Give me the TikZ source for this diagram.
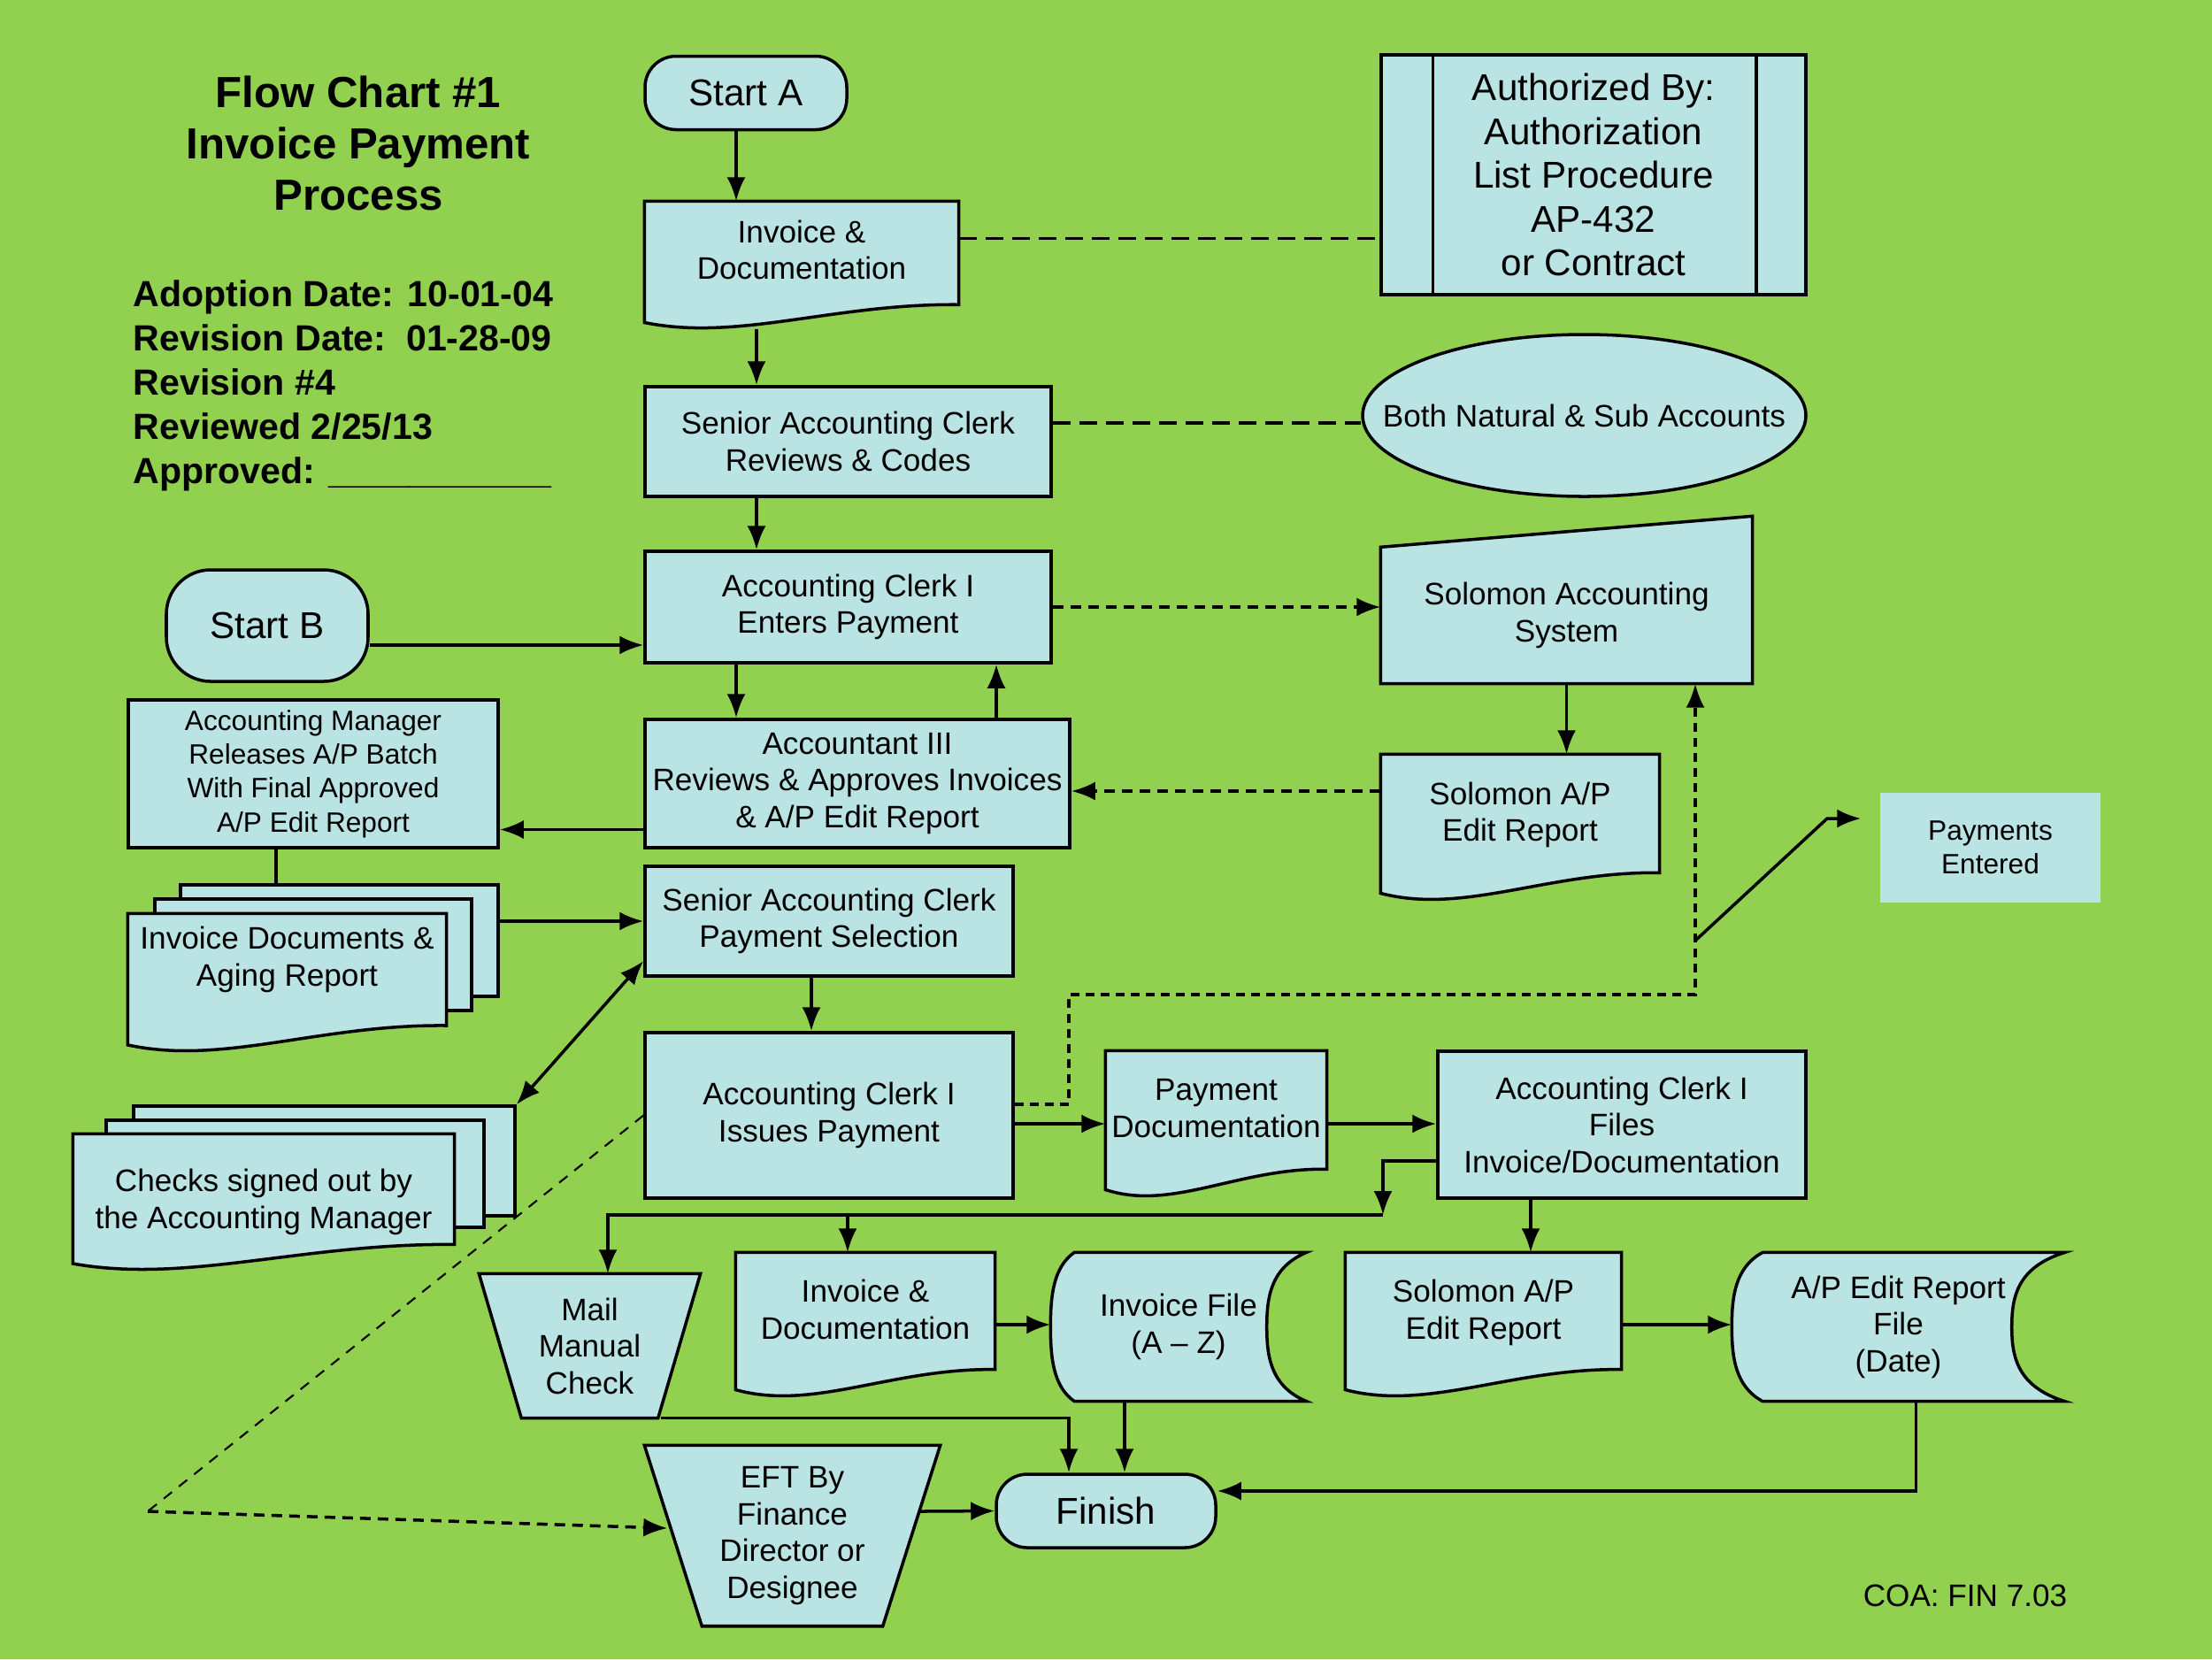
\documentclass[tikz,border=0pt]{standalone}
\usepackage{fontspec}
\setmainfont{Liberation Sans}
\usepackage{tikz}
\usetikzlibrary{shapes.geometric,arrows.meta,calc}
\pgfdeclarelayer{bg}
\pgfsetlayers{bg,main}
\definecolor{chartgreen}{RGB}{146,208,80}
\definecolor{boxblue}{RGB}{186,227,228}

\tikzset{
  thick/.style={line width=1pt},
  wh/.style 2 args={minimum width=#1cm,minimum height=#2cm},
  box/.style={draw,thick,fill=boxblue,align=center,inner sep=1pt,font=\fontsize{10}{11.8}\selectfont},
  term/.style={box,rounded corners=0.35cm,font=\fontsize{12}{14}\selectfont},
  bare/.style={align=center,inner sep=0pt,font=\fontsize{10}{11.8}\selectfont},
  docbox/.style={bare,text depth=0.35cm},
  outline/.style={draw,thick,fill=boxblue},
  dashedlink/.style={thick,dash pattern=on 0.12cm off 0.08cm},
  longdash/.style={thick,dash pattern=on 0.2cm off 0.1cm},
}

% document symbol with a wavy bottom
\newcommand{\docpath}[1]{%
  \draw[outline] let \p1=(#1.south west), \p2=(#1.north east), \n1={\x2-\x1}, \n2={\y2-\y1} in
    (\x1,{\y1+0.05*\n2}) -- (\x1,\y2) -- (\x2,\y2) -- (\x2,{\y1+0.19*\n2})
    .. controls ({\x1+0.6*\n1},{\y1+0.2*\n2}) and ({\x1+0.3*\n1},{\y1-0.1*\n2}) .. (\x1,{\y1+0.05*\n2}) -- cycle;}
% stored data symbol
\newcommand{\storepath}[3]{%
  \draw[outline] let \p1=(#1.south west), \p2=(#1.north east), \n2={\y2-\y1} in
    ({\x1+#2},\y2) -- (\x2,\y2)
    .. controls ({\x2-0.9*#3},{\y2-0.1*\n2}) and ({\x2-#3},{\y2-0.3*\n2}) .. ({\x2-#3},{0.5*(\y1+\y2)})
    .. controls ({\x2-#3},{\y1+0.3*\n2}) and ({\x2-0.9*#3},{\y1+0.1*\n2}) .. (\x2,\y1)
    -- ({\x1+#2},\y1)
    .. controls ({\x1+0.1*#2},{\y1+0.1*\n2}) and (\x1,{\y1+0.3*\n2}) .. (\x1,{0.5*(\y1+\y2)})
    .. controls (\x1,{\y2-0.3*\n2}) and ({\x1+0.1*#2},{\y2-0.1*\n2}) .. ({\x1+#2},\y2) -- cycle;}

\begin{document}
\begin{tikzpicture}[>={Latex[length=0.27cm,width=0.21cm]}]
\useasboundingbox (0,0) rectangle (25,-18.75);

\node[font=\bfseries\fontsize{14}{16.5}\selectfont,align=center] (title) at (4.05,-1.62) {Flow Chart \#1\\Invoice Payment\\Process};
\node[font=\bfseries\fontsize{11.7}{14.2}\selectfont,align=left,anchor=west,inner sep=0pt] (info) at (1.50,-4.36) {Adoption Date: 10-01-04\\Revision Date:\ \ 01-28-09\\Revision \#4\\Reviewed 2/25/13\\Approved: \_\_\_\_\_\_\_\_\_\_\_};
\node[font=\fontsize{10}{12}\selectfont] (coa) at (22.21,-18.03) {COA: FIN 7.03};

% top part
\node[term,wh={2.28}{0.83}] (startA) at (8.43,-1.05) {Start A};
\node[docbox,wh={3.54}{1.43}] (invdoc) at (9.06,-2.995) {Invoice \&\\Documentation};
\node[box,wh={4.80}{2.71},font=\fontsize{12}{14.1}\selectfont] (auth) at (18.01,-1.975) {Authorized By:\\Authorization\\List Procedure\\AP-432\\or Contract};
\node[box,wh={4.59}{1.24}] (revcodes) at (9.585,-4.99) {Senior Accounting Clerk\\Reviews \& Codes};
\node[box,ellipse,wh={5.01}{1.83},inner sep=0pt] (natural) at (17.905,-4.695) {\makebox[0pt]{Both Natural \& Sub Accounts}};
\node[box,wh={4.59}{1.26}] (enters) at (9.585,-6.86) {Accounting Clerk I\\Enters Payment};
\node[bare,wh={4.19}{1.53}] (solsys) at (17.705,-6.955) {Solomon Accounting\\System};
\node[term,rounded corners=0.5cm,wh={2.28}{1.26}] (startB) at (3.02,-7.07) {Start B};
\node[box,wh={4.18}{1.67},font=\fontsize{9}{10.9}\selectfont] (mgr) at (3.54,-8.745) {Accounting Manager\\Releases A/P Batch\\With Final Approved\\A/P Edit Report};
\node[box,wh={4.80}{1.45}] (acct3) at (9.69,-8.855) {Accountant III\\Reviews \& Approves Invoices\\\& A/P Edit Report};
\node[docbox,wh={3.14}{1.64}] (solap) at (17.18,-9.35) {Solomon A/P\\Edit Report};
\node[box,draw=none,wh={2.49}{1.24},font=\fontsize{9}{10.9}\selectfont] (payent) at (22.495,-9.58) {Payments\\Entered};

% middle part
\node[docbox,text depth=0.6cm,wh={3.59}{1.55}] (invstack) at (3.245,-11.105) {Invoice Documents \&\\Aging Report};
\node[box,wh={4.16}{1.24}] (paysel) at (9.37,-10.41) {Senior Accounting Clerk\\Payment Selection};
\node[bare,wh={4.30}{1.53}] (checks) at (2.98,-13.585) {Checks signed out by\\the Accounting Manager};
\node[box,wh={4.16}{1.87}] (issues) at (9.37,-12.605) {Accounting Clerk I\\Issues Payment};
\node[docbox,wh={2.49}{1.64}] (paydoc) at (13.745,-12.70) {Payment\\Documentation};
\node[box,wh={4.16}{1.66}] (files) at (18.33,-12.71) {Accounting Clerk I\\Files\\Invoice/Documentation};

% bottom part
\node[bare,wh={2.49}{1.62}] (mail) at (6.665,-15.21) {Mail\\Manual\\Check};
\node[docbox,wh={2.92}{1.62}] (invdoc2) at (9.78,-14.97) {Invoice \&\\Documentation};
\node[bare,wh={2.88}{1.67}] (invfile) at (13.32,-14.995) {Invoice File\\(A – Z)};
\node[docbox,wh={3.11}{1.62}] (solap2) at (16.765,-14.97) {Solomon A/P\\Edit Report};
\node[bare,wh={3.75}{1.67}] (apfile) at (21.455,-14.995) {A/P Edit Report\\File\\(Date)};
\node[bare,wh={3.33}{2.03}] (eft) at (8.955,-17.355) {EFT By\\Finance\\Director or\\Designee};
\node[term,wh={2.48}{0.83}] (finish) at (12.50,-17.075) {Finish};

\begin{pgfonlayer}{bg}
\fill[chartgreen] (0,0) rectangle (25,-18.75);
% stacked pages behind the multi-documents
\node[box,wh={3.59}{1.26}] (invback) at (3.835,-10.63) {};
\node[box,wh={3.58}{1.26}] (invmid) at (3.54,-10.79) {};
\node[box,wh={4.31}{1.24}] (chkback) at (3.665,-13.12) {};
\node[box,wh={4.27}{1.21}] (chkmid) at (3.335,-13.265) {};
\docpath{invdoc}
\docpath{solap}
\docpath{invstack}
\docpath{checks}
\docpath{paydoc}
\docpath{invdoc2}
\docpath{solap2}
\draw[outline] (solsys.south west) -- (solsys.north west) -- ([yshift=3.5mm]solsys.north east) -- (solsys.south east) -- cycle;
\draw[outline] (mail.north west) -- (mail.north east) -- ([xshift=-4.8mm]mail.south east) -- ([xshift=4.8mm]mail.south west) -- cycle;
\draw[outline] (eft.north west) -- (eft.north east) -- ([xshift=-6.5mm]eft.south east) -- ([xshift=6.5mm]eft.south west) -- cycle;
\storepath{invfile}{0.27cm}{0.45cm}
\storepath{apfile}{0.35cm}{0.6cm}
\end{pgfonlayer}

\draw[thick] ([xshift=6mm]auth.north west) -- ([xshift=6mm]auth.south west);
\draw[thick] ([xshift=-5.8mm]auth.north east) -- ([xshift=-5.8mm]auth.south east);

% connectors
\draw[->,thick] ([xshift=-1.1mm]startA.south) -- ([xshift=-1.1mm]startA.south |- invdoc.north);
\draw[->,thick] ([xshift=-5.1mm]invdoc.south) -- ([xshift=-5.1mm]invdoc.south |- revcodes.north);
\draw[longdash] ([yshift=3mm]invdoc.east) -- ([yshift=3mm]invdoc.east -| auth.west);
\draw[longdash] ([yshift=2.1mm]revcodes.east) -- ([yshift=2.1mm]revcodes.east -| natural.west);
\draw[->,thick] ([xshift=-10.35mm]revcodes.south) -- ([xshift=-10.35mm]revcodes.south |- enters.north);
\draw[->,thick] ([yshift=-2.2mm]startB.east) -- ([yshift=-2.2mm]startB.east -| enters.west);
\draw[->,dashedlink] (enters.east) -- (enters.east -| solsys.west);
\draw[->,thick] ([xshift=-12.65mm]enters.south) -- ([xshift=-12.65mm]enters.south |- acct3.north);
\draw[->,thick] ([xshift=15.7mm]acct3.north) -- ([xshift=15.7mm]acct3.north |- enters.south);
\draw[->,thick] (solsys.south) -- (solsys.south |- solap.north);
\draw[->,dashedlink] ([yshift=4.1mm]solap.west) -- ([yshift=4.1mm]solap.west -| acct3.east);
\draw[->,thick] ([yshift=-5.2mm]acct3.west) -- ([yshift=-5.2mm]acct3.west -| mgr.east);
\draw[thick] ([xshift=-4.2mm]mgr.south) -- ([xshift=-4.2mm]mgr.south |- invback.north);
\draw[->,thick] (invback.east |- paysel.west) -- (paysel.west);
\draw[<->,thick] ([yshift=-4.5mm]paysel.west) -- (chkback.north east);
\draw[->,thick] ([xshift=-2mm]paysel.south) -- ([xshift=-2mm]paysel.south |- issues.north);
\draw[->,thick] (issues.east |- paydoc.west) -- (paydoc.west);
\draw[->,thick] (paydoc.east) -- (paydoc.east -| files.west);
\draw[->,thick,dash pattern=on 0.1cm off 0.07cm] ([yshift=1.25mm]issues.east) -| (12.08,-11.24) -| ([xshift=14.55mm]solsys.south);
\coordinate (tap) at (19.16,-10.63);
\draw[->,thick] (tap) -- (20.65,-9.25) -- ([xshift=-2mm,yshift=3.3mm]payent.west);
\coordinate (corner) at (1.67,-17.08);
\draw[semithick,dash pattern=on 0.12cm off 0.1cm] (issues.west) -- (corner);
\draw[->,dashedlink] (corner) -- ([xshift=2.6mm,yshift=0.85mm]eft.west);
\coordinate (split) at (15.63,-13.73);
\draw[->,thick] ([yshift=-4.1mm]files.west) -| (split);
\draw[->,thick] (split) -| ([xshift=2.05mm]mail.north);
\draw[->,thick] (split) -| ([xshift=-2mm]invdoc2.north);
\draw[->,thick] ([xshift=-10.3mm]files.south) -- ([xshift=-10.3mm]files.south |- solap2.north);
\draw[->,thick] (invdoc2.east) -- (invdoc2.east -| invfile.west);
\draw[->,thick] (solap2.east) -- (solap2.east -| apfile.west);
\draw[->,thick] ([xshift=-6.1mm]invfile.south) -- ([xshift=-6.1mm]invfile.south |- finish.north);
\draw[->,thick] ([xshift=-4.5mm]mail.south east) -| ([xshift=-4.2mm]finish.north);
\draw[->,thick] ([xshift=2mm]apfile.south) |- ([yshift=2.25mm]finish.east);
\coordinate (eftout) at (10.40,-17.08);
\draw[->,thick] (eftout) -- (finish.west);

\end{tikzpicture}
\end{document}
